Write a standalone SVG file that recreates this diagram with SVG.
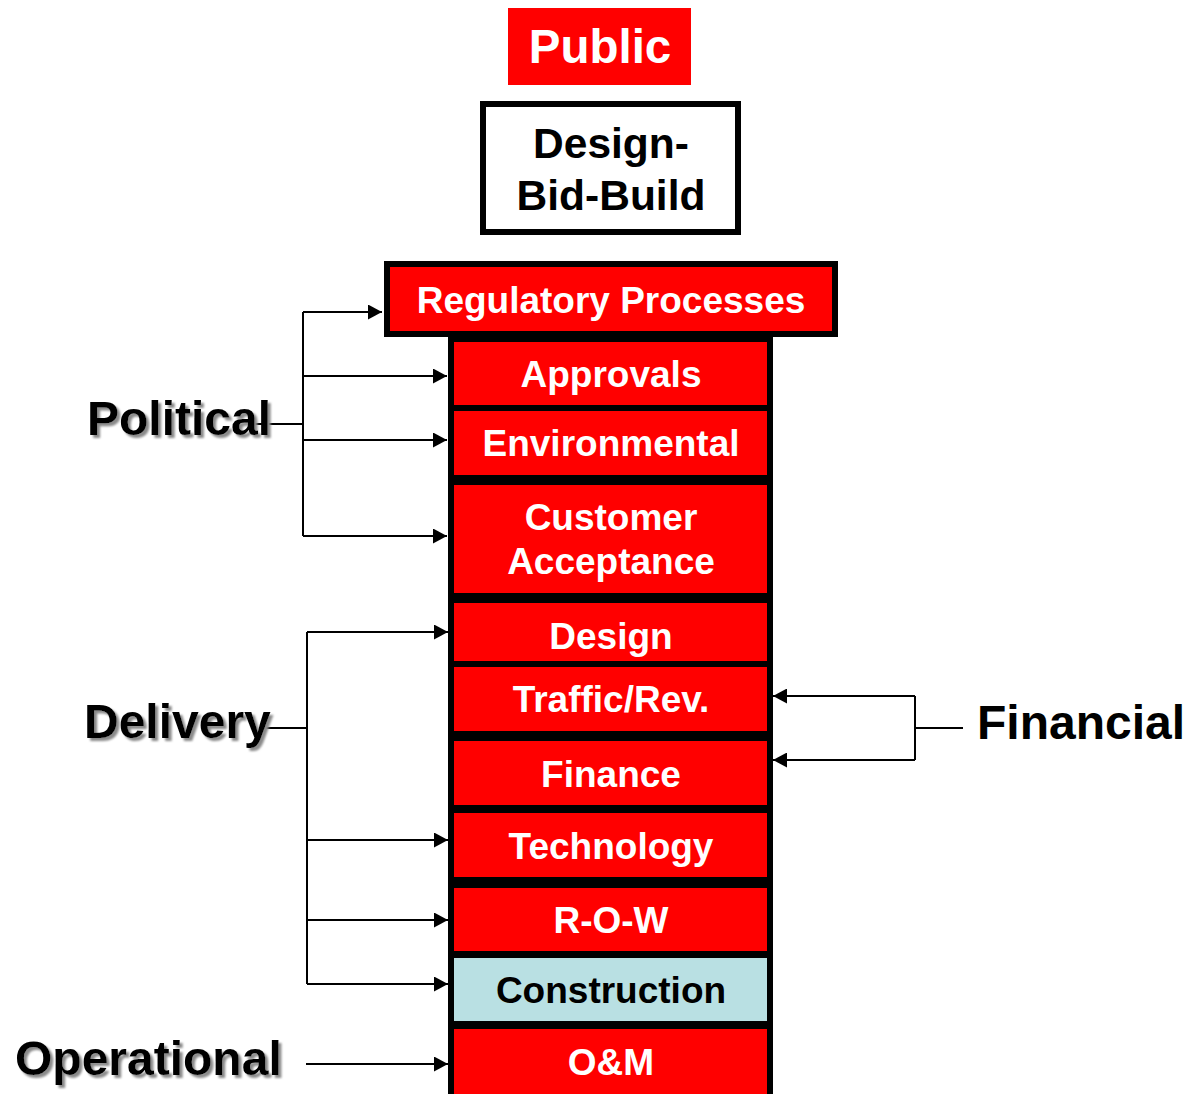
<svg xmlns="http://www.w3.org/2000/svg" width="1186" height="1094" viewBox="0 0 1186 1094">
<style>
  .box { fill: #ff0000; stroke: #000; stroke-width: 6; }
  .cbox { fill: #b9e0e3; stroke: #000; stroke-width: 6; }
  .bt { font-family: "Liberation Sans", Arial, sans-serif; font-weight: bold; font-size: 37px; fill: #fff; text-anchor: middle; }
  .ct { fill: #000; }
  .lbl { font-family: "Liberation Sans", Arial, sans-serif; font-weight: bold; font-size: 48px; fill: #000; }
  .conn { fill: none; stroke: #000; stroke-width: 2; }
  .arr { marker-end: url(#ah); }
</style>
<defs>
  <marker id="ah" markerUnits="userSpaceOnUse" markerWidth="14" markerHeight="15" refX="14" refY="7.5" orient="auto">
    <path d="M0,0 L14,7.5 L0,15 z" fill="#000"/>
  </marker>
  <filter id="sh" x="-5%" y="-10%" width="115%" height="130%">
    <feDropShadow dx="3" dy="3" stdDeviation="1" flood-color="#8a8a8a" flood-opacity="1"/>
  </filter>
</defs>
<rect width="1186" height="1094" fill="#fff"/>

<g id="public">
  <rect x="508" y="8" width="183" height="77" fill="#ff0000"/>
  <text x="600" y="63" class="bt" style="font-size:47.5px">Public</text>
</g>
<g id="dbb">
  <rect x="483" y="104" width="255" height="128" fill="#fff" stroke="#000" stroke-width="6"/>
  <text x="611" y="158" class="bt ct" style="font-size:42.5px">Design-</text>
  <text x="611" y="210" class="bt ct" style="font-size:42.5px">Bid-Build</text>
</g>

<g id="connectors">
  <!-- Political -->
  <path class="conn" d="M253,424 H303"/>
  <path class="conn" d="M303,312 V536"/>
  <path class="conn arr" d="M303,312 H382"/>
  <path class="conn arr" d="M303,376 H447"/>
  <path class="conn arr" d="M303,440 H447"/>
  <path class="conn arr" d="M303,536 H447"/>
  <!-- Delivery -->
  <path class="conn" d="M263,728 H307"/>
  <path class="conn" d="M307,632 V984"/>
  <path class="conn arr" d="M307,632 H448"/>
  <path class="conn arr" d="M307,840 H448"/>
  <path class="conn arr" d="M307,920 H448"/>
  <path class="conn arr" d="M307,984 H448"/>
  <!-- Operational -->
  <path class="conn arr" d="M306,1064 H448"/>
  <!-- Financial -->
  <path class="conn" d="M963,728 H915"/>
  <path class="conn" d="M915,696 V760"/>
  <path class="conn arr" d="M915,696 H773"/>
  <path class="conn arr" d="M915,760 H773"/>
</g>

<g id="regulatory">
  <rect x="387" y="264" width="448" height="70" class="box"/>
  <text x="611" y="313" class="bt">Regulatory Processes</text>
</g>
<g id="approvals">
  <rect x="451" y="339" width="319" height="69" class="box"/>
  <text x="611" y="387" class="bt">Approvals</text>
</g>
<g id="environmental">
  <rect x="451" y="408" width="319" height="70" class="box"/>
  <text x="611" y="456" class="bt">Environmental</text>
</g>
<g id="customer">
  <rect x="451" y="482" width="319" height="114" class="box"/>
  <text x="611" y="530" class="bt">Customer</text>
  <text x="611" y="574" class="bt">Acceptance</text>
</g>
<g id="design">
  <rect x="451" y="600" width="319" height="64" class="box"/>
  <text x="611" y="649" class="bt">Design</text>
</g>
<g id="traffic">
  <rect x="451" y="664" width="319" height="70" class="box"/>
  <text x="611" y="712" class="bt">Traffic/Rev.</text>
</g>
<g id="finance">
  <rect x="451" y="738" width="319" height="70" class="box"/>
  <text x="611" y="787" class="bt">Finance</text>
</g>
<g id="technology">
  <rect x="451" y="810" width="319" height="70" class="box"/>
  <text x="611" y="859" class="bt">Technology</text>
</g>
<g id="row">
  <rect x="451" y="885" width="319" height="69" class="box"/>
  <text x="611" y="933" class="bt">R-O-W</text>
</g>
<g id="construction">
  <rect x="451" y="955" width="319" height="69" class="cbox"/>
  <text x="611" y="1003" class="bt ct">Construction</text>
</g>
<g id="om">
  <rect x="451" y="1026" width="319" height="80" class="box"/>
  <text x="611" y="1075" class="bt">O&amp;M</text>
</g>

<g id="political"><text x="87" y="435" class="lbl" filter="url(#sh)">Political</text></g>
<g id="delivery"><text x="84" y="738" class="lbl" filter="url(#sh)">Delivery</text></g>
<g id="operational"><text x="15" y="1075" class="lbl" filter="url(#sh)">Operational</text></g>
<g id="financial"><text x="977" y="739" class="lbl">Financial</text></g>
</svg>
